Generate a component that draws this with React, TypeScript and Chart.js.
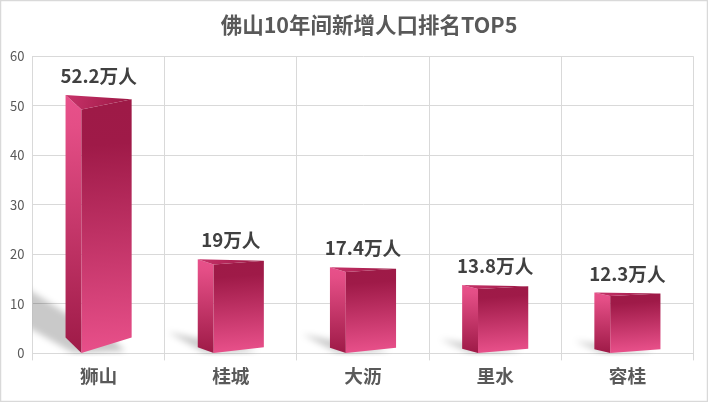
import { useEffect, useRef } from "react";
import { Chart, registerables } from "chart.js";

Chart.register(...registerables);

const titleText = "佛山10年间新增人口排名TOP5";
const categories = ["狮山", "桂城", "大沥", "里水", "容桂"];
const values = [52.2, 19, 17.4, 13.8, 12.3];
const valueLabels = ["52.2万人", "19万人", "17.4万人", "13.8万人", "12.3万人"];

const FONT = '"Noto Sans CJK SC", "Noto Sans", sans-serif';
const GRID = "#d9d9d9";

const poly = (ctx: CanvasRenderingContext2D, pts: number[][]) => {
  ctx.beginPath();
  pts.forEach(([x, y], i) => (i === 0 ? ctx.moveTo(x, y) : ctx.lineTo(x, y)));
  ctx.closePath();
};

// draws the prism bars on top of the (invisible) bar elements
const prismBars = {
  id: "prismBars",
  beforeDraw(chart: any) {
    const { ctx, width, height } = chart;
    ctx.save();
    ctx.fillStyle = "#ffffff";
    ctx.fillRect(0, 0, width, height);
    ctx.strokeStyle = GRID;
    ctx.lineWidth = 1.5;
    ctx.strokeRect(0.5, 0.5, width - 1, height - 1);

    // title sits right of the canvas centre in the original
    ctx.fillStyle = "#595959";
    ctx.font = `bold 21.5px ${FONT}`;
    ctx.textAlign = "center";
    ctx.textBaseline = "middle";
    ctx.fillText(titleText, 369, 25);
    ctx.restore();
  },
  afterDatasetsDraw(chart: any) {
    const { ctx, chartArea } = chart;
    const meta = chart.getDatasetMeta(0);

    meta.data.forEach((el: any, i: number) => {
      const left = el.x - el.width / 2;
      const right = el.x + el.width / 2;
      const top = el.y;
      const base = el.base;
      const h = base - top;
      const fx = left + el.width * 0.24;
      const frontTop = top + h * 0.056;
      const rightTop = top + h * 0.016;
      const drop = h * 0.06;

      // shadow
      const tipX = left - h * 0.32;
      const tipY = base - (0.147 * h + 0.000813 * h * h);
      const tipLow = tipY + Math.max(0, (h - 94) * 0.25);
      ctx.save();
      ctx.beginPath();
      ctx.rect(chartArea.left, chartArea.top, chartArea.width, chartArea.height + 3);
      ctx.clip();
      ctx.filter = "blur(3px)";
      ctx.fillStyle = "rgba(0,0,0,0.21)";
      poly(ctx, [
        [tipX, tipY],
        [left, base - h * 0.155],
        [fx + el.width * 0.3, base - h * 0.1],
        [right - el.width * 0.1, base - 2],
        [fx, base],
        [fx - el.width * 0.15, base - 1],
        [tipX, tipLow],
      ]);
      ctx.fill();
      ctx.restore();

      ctx.save();
      // side face
      const side = ctx.createLinearGradient(left, top, left, base);
      side.addColorStop(0, "#e8518b");
      side.addColorStop(0.12, "#e44e86");
      side.addColorStop(1, "#9e1a47");
      ctx.fillStyle = side;
      poly(ctx, [
        [left, top],
        [fx, frontTop],
        [fx, base],
        [left, base - drop],
      ]);
      ctx.fill();

      // front face, the colour bands lean with the bottom edge
      const front = ctx.createLinearGradient(fx, frontTop, fx + drop * 1.2, base);
      front.addColorStop(0, "#9e1a47");
      front.addColorStop(0.15, "#9f1a48");
      front.addColorStop(1, "#e8508a");
      ctx.fillStyle = front;
      poly(ctx, [
        [fx, frontTop],
        [right, rightTop],
        [right, base - drop],
        [fx, base],
      ]);
      ctx.fill();

      // top face
      const cap = ctx.createLinearGradient(left, top, right, frontTop);
      cap.addColorStop(0, "#c8336a");
      cap.addColorStop(0.85, "#a01a48");
      ctx.fillStyle = cap;
      poly(ctx, [
        [left, top],
        [right, rightTop],
        [fx, frontTop],
      ]);
      ctx.fill();

      // value label
      ctx.fillStyle = "#404040";
      ctx.font = `bold 18.67px ${FONT}`;
      ctx.textAlign = "center";
      ctx.textBaseline = "middle";
      ctx.fillText(valueLabels[i], el.x, top - 19);
      ctx.restore();
    });
  },
};

export default function App() {
  const canvasRef = useRef<HTMLCanvasElement | null>(null);

  useEffect(() => {
    if (!canvasRef.current) return;

    const chart = new Chart(canvasRef.current, {
      type: "bar",
      data: {
        labels: categories,
        datasets: [
          {
            data: values,
            backgroundColor: "rgba(0,0,0,0)",
            categoryPercentage: 1,
            barPercentage: 0.5,
          },
        ],
      },
      options: {
        responsive: false,
        animation: false,
        layout: { padding: { left: 0, right: 14.5, top: 56.4, bottom: 0 } },
        plugins: {
          legend: { display: false },
          tooltip: { enabled: false },
          title: { display: false },
        },
        scales: {
          x: {
            afterFit: (scale: any) => {
              scale.height = 48.6;
            },
            grid: { color: GRID, tickLength: 7 },
            border: { color: GRID },
            ticks: {
              color: "#595959",
              padding: 4,
              font: { family: FONT, size: 18.67, weight: "bold" },
            },
          },
          y: {
            min: 0,
            max: 60,
            afterFit: (scale: any) => {
              scale.width = 32.5;
            },
            grid: { color: GRID, tickLength: 0 },
            border: { color: GRID },
            ticks: {
              stepSize: 10,
              color: "#595959",
              padding: 8,
              font: { family: FONT, size: 13 },
            },
          },
        },
      },
      plugins: [prismBars],
    } as any);

    return () => chart.destroy();
  }, []);

  return (
    <div style={{ position: "fixed", left: 0, top: 0, width: 708, height: 402 }}>
      <canvas ref={canvasRef} width={708} height={402} style={{ display: "block" }} />
    </div>
  );
}
